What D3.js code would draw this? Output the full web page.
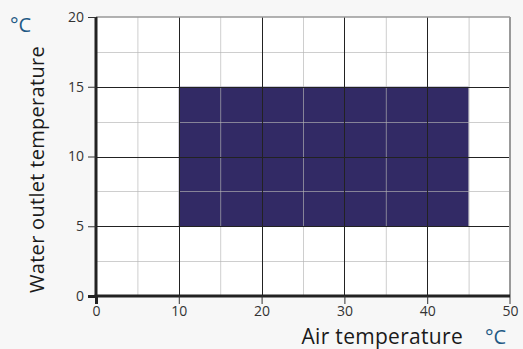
<!DOCTYPE html>
<html>
<head>
    <meta charset="utf-8">
    <title>Operating range</title>
    <script src="https://d3js.org/d3.v7.min.js"></script>
    <style>
        body { margin: 0; background: #f7f7f7; }
        text { font-family: "Open Sans", "Lato", sans-serif; }
        .tick-label { font-size: 14px; fill: #333; }
        .title { font-size: 21px; fill: #1a1a1a; letter-spacing: 0.3px; }
        .title.y { font-size: 20px; }
        .unit { font-size: 20px; fill: #1f5a85; }
    </style>
</head>
<body>
    <svg id="chart" width="523" height="349"></svg>

    <script>
        // Axis ticks
        const xTicks = [0, 10, 20, 30, 40, 50];
        const yTicks = [0, 5, 10, 15, 20];
        const xMinor = [5, 15, 25, 35, 45];
        const yMinor = [2.5, 7.5, 12.5, 17.5];

        // Operating area: air temperature range and water outlet range
        const airRange = [10, 45];
        const waterRange = [5, 15];

        const margin = { top: 17, right: 13, bottom: 53, left: 96 };
        const svg = d3.select('#chart');
        const width = +svg.attr('width') - margin.left - margin.right;
        const height = +svg.attr('height') - margin.top - margin.bottom;

        const x = d3.scaleLinear().domain([0, 50]).range([0, width]);
        const y = d3.scaleLinear().domain([0, 20]).range([height, 0]);

        const g = svg.append('g')
            .attr('transform', `translate(${margin.left},${margin.top})`);

        // plot background
        g.append('rect')
            .attr('width', width)
            .attr('height', height)
            .attr('fill', '#fff');

        // the operating range block
        g.append('rect')
            .attr('x', x(airRange[0]))
            .attr('y', y(waterRange[1]))
            .attr('width', x(airRange[1]) - x(airRange[0]))
            .attr('height', y(waterRange[0]) - y(waterRange[1]))
            .attr('fill', '#322a65');

        // minor grid (light, drawn over the block)
        g.selectAll('.vminor').data(xMinor).enter().append('line')
            .attr('x1', d => x(d) + 0.5).attr('x2', d => x(d) + 0.5)
            .attr('y1', 0).attr('y2', height)
            .attr('stroke', 'rgba(180,180,180,0.65)');
        g.selectAll('.hminor').data(yMinor).enter().append('line')
            .attr('y1', d => Math.round(y(d)) + 0.5).attr('y2', d => Math.round(y(d)) + 0.5)
            .attr('x1', 0).attr('x2', width)
            .attr('stroke', 'rgba(180,180,180,0.65)');

        // major grid
        g.selectAll('.vmajor').data(xTicks.slice(1, -1)).enter().append('line')
            .attr('x1', d => Math.round(x(d)) + 0.5).attr('x2', d => Math.round(x(d)) + 0.5)
            .attr('y1', 0).attr('y2', height)
            .attr('stroke', '#222');
        g.selectAll('.hmajor').data(yTicks.slice(1, -1)).enter().append('line')
            .attr('y1', d => Math.round(y(d)) + 0.5).attr('y2', d => Math.round(y(d)) + 0.5)
            .attr('x1', 0).attr('x2', width)
            .attr('stroke', '#222');

        // top and right border
        g.append('line')
            .attr('x1', 0).attr('x2', width)
            .attr('y1', y(20)).attr('y2', y(20))
            .attr('stroke', '#999').attr('stroke-width', 1.5);
        g.append('line')
            .attr('x1', x(50)).attr('x2', x(50))
            .attr('y1', 0).attr('y2', height + 8)
            .attr('stroke', '#999').attr('stroke-width', 2);

        // axes
        const xAxis = g.append('g')
            .attr('transform', `translate(0,${height})`)
            .call(d3.axisBottom(x).tickValues(xTicks).tickSize(8).tickPadding(2));
        const yAxis = g.append('g')
            .call(d3.axisLeft(y).tickValues(yTicks).tickSize(8).tickPadding(4));

        [xAxis, yAxis].forEach(a => {
            a.select('.domain').attr('stroke', '#222').attr('stroke-width', 3);
            a.selectAll('.tick line').attr('stroke', '#333');
            a.selectAll('.tick text')
                .attr('class', 'tick-label')
                .attr('font-family', null)
                .attr('font-size', null)
                .attr('fill', null);
        });
        xAxis.select('.domain').attr('d', `M-1.5,0H${width}`);
        yAxis.select('.domain').attr('d', `M0,0V${height + 1.5}`);
        xAxis.select('.tick line').attr('stroke-width', 3).attr('stroke', '#222');
        xAxis.selectAll('.tick').filter(d => d === 50).select('line').attr('stroke', '#999');
        yAxis.selectAll('.tick').filter(d => d === 0).select('line')
            .attr('stroke-width', 3).attr('stroke', '#222');

        // axis titles
        svg.append('text')
            .attr('class', 'title')
            .attr('x', 463)
            .attr('y', 344)
            .attr('text-anchor', 'end')
            .text('Air temperature');
        svg.append('text')
            .attr('class', 'unit')
            .attr('x', 485)
            .attr('y', 344)
            .text('°C');

        svg.append('text')
            .attr('class', 'title y')
            .attr('transform', 'translate(44,293) rotate(-90)')
            .text('Water outlet temperature');
        svg.append('text')
            .attr('class', 'unit')
            .attr('x', 10)
            .attr('y', 32)
            .text('°C');
    </script>
</body>
</html>
